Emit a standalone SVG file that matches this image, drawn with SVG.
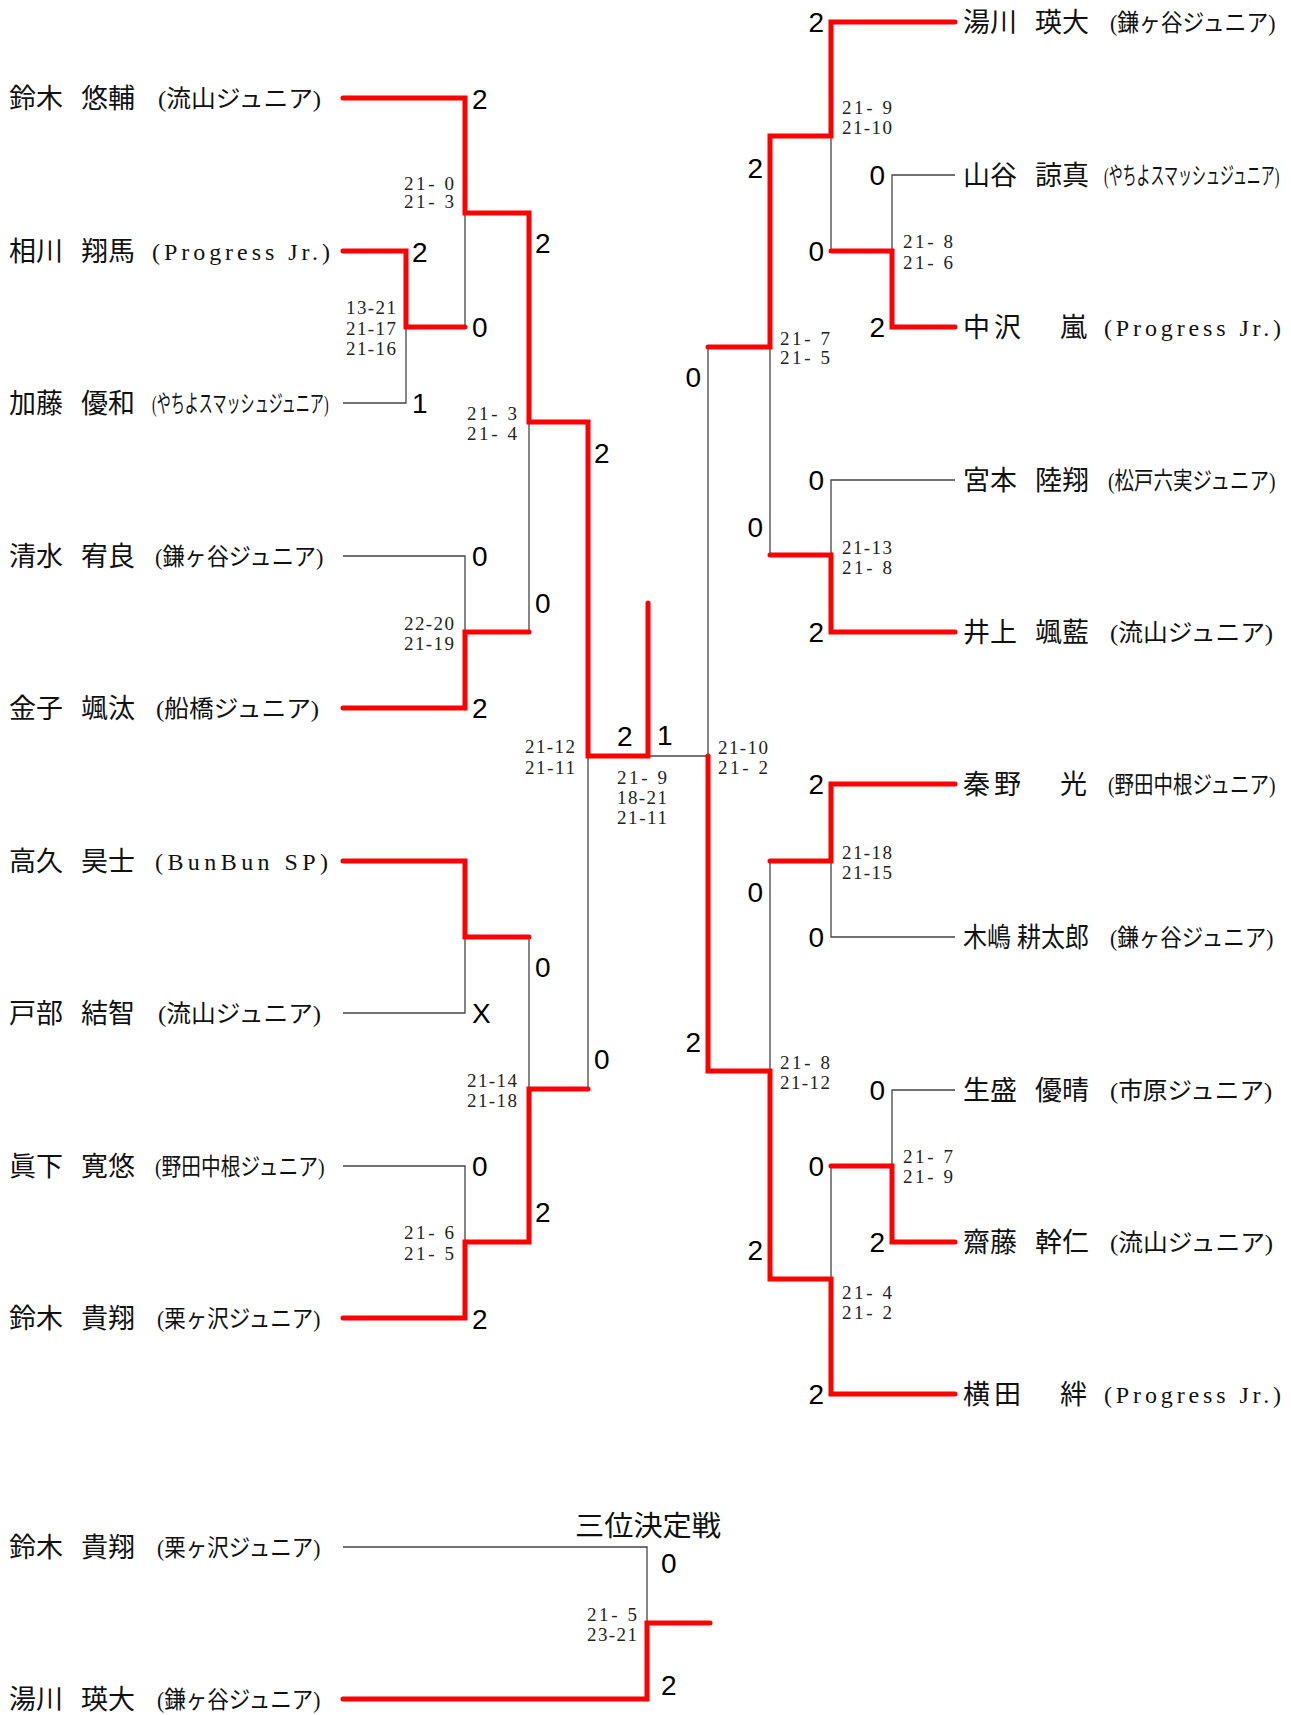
<svg xmlns="http://www.w3.org/2000/svg" width="1291" height="1715" viewBox="0 0 1291 1715">
<style>
.bg{fill:#fff}
.nm{font-family:"Liberation Serif","Noto Sans CJK JP",serif;font-size:27px;fill:#111}
.cl{font-family:"Liberation Serif","Noto Sans CJK JP",serif;font-size:24px;fill:#111}
.sc{font-family:"Liberation Sans",Arial,sans-serif;font-size:28px;fill:#000}
.gm{font-family:"Liberation Serif","Times New Roman",serif;font-size:19px;fill:#222}
.ttl{font-family:"Liberation Serif","Noto Sans CJK JP",serif;font-size:28px;fill:#111}
.w{fill:none;stroke:#ff0000;stroke-width:5;stroke-linecap:round;stroke-linejoin:miter}
.l{fill:none;stroke:#444;stroke-width:1.3}
</style>
<rect class="bg" x="0" y="0" width="1291" height="1715"/>

<g id="connectors">
  <polyline class="l" points="465,213 465,327"/>
  <polyline class="l" points="343,403 406,403 406,327"/>
  <polyline class="l" points="529,422 529,632"/>
  <polyline class="l" points="343,556 465,556 465,632"/>
  <polyline class="l" points="343,1013 465,1013 465,937"/>
  <polyline class="l" points="529,937 529,1089"/>
  <polyline class="l" points="343,1166 465,1166 465,1242"/>
  <polyline class="l" points="588,756 588,1089"/>
  <polyline class="l" points="648,756 708,756"/>
  <polyline class="l" points="831,136 831,251"/>
  <polyline class="l" points="955,175 892,175 892,251"/>
  <polyline class="l" points="955,480 831,480 831,555"/>
  <polyline class="l" points="770,347 770,555"/>
  <polyline class="l" points="708,347 708,756"/>
  <polyline class="l" points="955,937 831,937 831,861"/>
  <polyline class="l" points="770,861 770,1071"/>
  <polyline class="l" points="955,1090 892,1090 892,1166"/>
  <polyline class="l" points="831,1166 831,1279"/>
  <polyline class="l" points="343,1547 647,1547 647,1623"/>
  <polyline class="w" points="343,98 465,98 465,213 529,213 529,422 588,422 588,756 648,756 648,603"/>
  <polyline class="w" points="343,251 406,251 406,327 465,327"/>
  <polyline class="w" points="343,708 465,708 465,632 529,632"/>
  <polyline class="w" points="343,861 465,861 465,937 529,937"/>
  <polyline class="w" points="343,1318 465,1318 465,1242 529,1242 529,1089 588,1089"/>
  <polyline class="w" points="955,22 831,22 831,136 770,136 770,347 708,347"/>
  <polyline class="w" points="955,327 892,327 892,251 831,251"/>
  <polyline class="w" points="955,632 831,632 831,555 770,555"/>
  <polyline class="w" points="955,784 831,784 831,861 770,861"/>
  <polyline class="w" points="955,1394 831,1394 831,1279 770,1279 770,1071 708,1071 708,756"/>
  <polyline class="w" points="955,1242 892,1242 892,1166 831,1166"/>
  <polyline class="w" points="343,1699 647,1699 647,1623 710,1623"/>
</g>

<g id="p-suzuki-yusuke"><text class="nm" y="108"><tspan x="9">鈴木</tspan><tspan x="81">悠輔</tspan></text><text class="cl" transform="translate(158,107) scale(1.031,1)">(流山ジュニア)</text></g>
<g id="p-aikawa"><text class="nm" y="261"><tspan x="9">相川</tspan><tspan x="81">翔馬</tspan></text><text class="cl" x="152" y="260" textLength="178" lengthAdjust="spacing">(Progress Jr.)</text></g>
<g id="p-kato"><text class="nm" y="413"><tspan x="9">加藤</tspan><tspan x="81">優和</tspan></text><text class="cl" transform="translate(152,412) scale(0.586,1)">(やちよスマッシュジュニア)</text></g>
<g id="p-shimizu"><text class="nm" y="566"><tspan x="9">清水</tspan><tspan x="81">宥良</tspan></text><text class="cl" transform="translate(155,565) scale(0.924,1)">(鎌ヶ谷ジュニア)</text></g>
<g id="p-kaneko"><text class="nm" y="718"><tspan x="9">金子</tspan><tspan x="81">颯汰</tspan></text><text class="cl" transform="translate(156,717) scale(1.031,1)">(船橋ジュニア)</text></g>
<g id="p-takaku"><text class="nm" y="871"><tspan x="9">高久</tspan><tspan x="81">昊士</tspan></text><text class="cl" x="155" y="870" textLength="173" lengthAdjust="spacing">(BunBun SP)</text></g>
<g id="p-tobe"><text class="nm" y="1023"><tspan x="9">戸部</tspan><tspan x="81">結智</tspan></text><text class="cl" transform="translate(158,1022) scale(1.031,1)">(流山ジュニア)</text></g>
<g id="p-mashita"><text class="nm" y="1176"><tspan x="9">眞下</tspan><tspan x="81">寛悠</tspan></text><text class="cl" transform="translate(155,1175) scale(0.822,1)">(野田中根ジュニア)</text></g>
<g id="p-suzuki-takato"><text class="nm" y="1328"><tspan x="9">鈴木</tspan><tspan x="81">貴翔</tspan></text><text class="cl" transform="translate(157,1327) scale(0.897,1)">(栗ヶ沢ジュニア)</text></g>

<g id="p-yukawa"><text class="nm" y="32"><tspan x="963">湯川</tspan><tspan x="1035">瑛大</tspan></text><text class="cl" transform="translate(1110,31) scale(0.908,1)">(鎌ヶ谷ジュニア)</text></g>
<g id="p-yamaya"><text class="nm" y="185"><tspan x="963">山谷</tspan><tspan x="1035">諒真</tspan></text><text class="cl" transform="translate(1104,184) scale(0.582,1)">(やちよスマッシュジュニア)</text></g>
<g id="p-nakazawa"><text class="nm" y="337" x="963 990 994 1021 1060">中 沢　嵐</text><text class="cl" x="1104" y="336" textLength="177" lengthAdjust="spacing">(Progress Jr.)</text></g>
<g id="p-miyamoto"><text class="nm" y="490"><tspan x="963">宮本</tspan><tspan x="1035">陸翔</tspan></text><text class="cl" transform="translate(1108,489) scale(0.8125,1)">(松戸六実ジュニア)</text></g>
<g id="p-inoue"><text class="nm" y="642"><tspan x="963">井上</tspan><tspan x="1035">颯藍</tspan></text><text class="cl" transform="translate(1110,641) scale(1.031,1)">(流山ジュニア)</text></g>
<g id="p-hatano"><text class="nm" y="794" x="963 990 994 1021 1060">秦 野　光</text><text class="cl" transform="translate(1108,793) scale(0.8125,1)">(野田中根ジュニア)</text></g>
<g id="p-kijima"><text class="nm" transform="translate(963,947) scale(0.889,1)">木嶋 耕太郎</text><text class="cl" transform="translate(1110,946) scale(0.897,1)">(鎌ヶ谷ジュニア)</text></g>
<g id="p-ikumori"><text class="nm" y="1100"><tspan x="963">生盛</tspan><tspan x="1035">優晴</tspan></text><text class="cl" transform="translate(1110,1099) scale(1.025,1)">(市原ジュニア)</text></g>
<g id="p-saito"><text class="nm" y="1252"><tspan x="963">齋藤</tspan><tspan x="1035">幹仁</tspan></text><text class="cl" transform="translate(1110,1251) scale(1.031,1)">(流山ジュニア)</text></g>
<g id="p-yokota"><text class="nm" y="1404" x="963 990 994 1021 1060">横 田　絆</text><text class="cl" x="1104" y="1403" textLength="177" lengthAdjust="spacing">(Progress Jr.)</text></g>

<g id="third-title"><text class="ttl" x="575" y="1536" textLength="146" lengthAdjust="spacingAndGlyphs">三位決定戦</text></g>
<g id="p3-suzuki"><text class="nm" y="1557"><tspan x="9">鈴木</tspan><tspan x="81">貴翔</tspan></text><text class="cl" transform="translate(157,1556) scale(0.897,1)">(栗ヶ沢ジュニア)</text></g>
<g id="p3-yukawa"><text class="nm" y="1709"><tspan x="9">湯川</tspan><tspan x="81">瑛大</tspan></text><text class="cl" transform="translate(157,1708) scale(0.897,1)">(鎌ヶ谷ジュニア)</text></g>

<g id="scores-left" class="sc">
  <text x="472" y="109">2</text>
  <text x="412" y="262">2</text>
  <text x="472" y="337">0</text>
  <text x="412" y="413">1</text>
  <text x="535" y="253">2</text>
  <text x="535" y="613">0</text>
  <text x="472" y="566">0</text>
  <text x="472" y="718">2</text>
  <text x="594" y="463">2</text>
  <text x="617" y="746">2</text>
  <text x="657" y="745">1</text>
  <text x="535" y="977">0</text>
  <text x="472" y="1023">X</text>
  <text x="594" y="1069">0</text>
  <text x="472" y="1176">0</text>
  <text x="535" y="1222">2</text>
  <text x="472" y="1329">2</text>
  <text x="661" y="1573">0</text>
  <text x="661" y="1695">2</text>
</g>
<g id="scores-right" class="sc" text-anchor="end">
  <text x="824" y="32">2</text>
  <text x="763" y="178">2</text>
  <text x="885" y="185">0</text>
  <text x="824" y="261">0</text>
  <text x="885" y="337">2</text>
  <text x="701" y="387">0</text>
  <text x="824" y="490">0</text>
  <text x="763" y="537">0</text>
  <text x="824" y="642">2</text>
  <text x="824" y="794">2</text>
  <text x="763" y="902">0</text>
  <text x="824" y="947">0</text>
  <text x="701" y="1052">2</text>
  <text x="885" y="1100">0</text>
  <text x="824" y="1176">0</text>
  <text x="885" y="1252">2</text>
  <text x="763" y="1260">2</text>
  <text x="824" y="1404">2</text>
</g>

<g id="games" class="gm">
  <text x="404" y="190" textLength="50" lengthAdjust="spacing">21- 0</text>
  <text x="404" y="208" textLength="50" lengthAdjust="spacing">21- 3</text>
  <text x="346" y="313.5" textLength="50" lengthAdjust="spacing">13-21</text>
  <text x="346" y="334.5" textLength="50" lengthAdjust="spacing">21-17</text>
  <text x="346" y="354.5" textLength="50" lengthAdjust="spacing">21-16</text>
  <text x="467" y="419.5" textLength="50" lengthAdjust="spacing">21- 3</text>
  <text x="467" y="439.5" textLength="50" lengthAdjust="spacing">21- 4</text>
  <text x="404" y="629.5" textLength="50" lengthAdjust="spacing">22-20</text>
  <text x="404" y="649.5" textLength="50" lengthAdjust="spacing">21-19</text>
  <text x="525" y="752.5" textLength="50" lengthAdjust="spacing">21-12</text>
  <text x="525" y="773.5" textLength="50" lengthAdjust="spacing">21-11</text>
  <text x="617" y="783.5" textLength="50" lengthAdjust="spacing">21- 9</text>
  <text x="617" y="803.5" textLength="50" lengthAdjust="spacing">18-21</text>
  <text x="617" y="823.5" textLength="50" lengthAdjust="spacing">21-11</text>
  <text x="467" y="1086.5" textLength="50" lengthAdjust="spacing">21-14</text>
  <text x="467" y="1106.5" textLength="50" lengthAdjust="spacing">21-18</text>
  <text x="404" y="1238.5" textLength="50" lengthAdjust="spacing">21- 6</text>
  <text x="404" y="1259.5" textLength="50" lengthAdjust="spacing">21- 5</text>
  <text x="587" y="1620.5" textLength="50" lengthAdjust="spacing">21- 5</text>
  <text x="587" y="1640.5" textLength="50" lengthAdjust="spacing">23-21</text>
  <text x="842" y="113.5" textLength="50" lengthAdjust="spacing">21- 9</text>
  <text x="842" y="133.5" textLength="50" lengthAdjust="spacing">21-10</text>
  <text x="903" y="247.5" textLength="50" lengthAdjust="spacing">21- 8</text>
  <text x="903" y="268.5" textLength="50" lengthAdjust="spacing">21- 6</text>
  <text x="780" y="344.5" textLength="50" lengthAdjust="spacing">21- 7</text>
  <text x="780" y="363.5" textLength="50" lengthAdjust="spacing">21- 5</text>
  <text x="842" y="553.5" textLength="50" lengthAdjust="spacing">21-13</text>
  <text x="842" y="573.5" textLength="50" lengthAdjust="spacing">21- 8</text>
  <text x="718" y="753.5" textLength="50" lengthAdjust="spacing">21-10</text>
  <text x="718" y="773.5" textLength="50" lengthAdjust="spacing">21- 2</text>
  <text x="842" y="858.5" textLength="50" lengthAdjust="spacing">21-18</text>
  <text x="842" y="878.5" textLength="50" lengthAdjust="spacing">21-15</text>
  <text x="780" y="1068.5" textLength="50" lengthAdjust="spacing">21- 8</text>
  <text x="780" y="1088.5" textLength="50" lengthAdjust="spacing">21-12</text>
  <text x="903" y="1162.5" textLength="50" lengthAdjust="spacing">21- 7</text>
  <text x="903" y="1182.5" textLength="50" lengthAdjust="spacing">21- 9</text>
  <text x="842" y="1298.5" textLength="50" lengthAdjust="spacing">21- 4</text>
  <text x="842" y="1318.5" textLength="50" lengthAdjust="spacing">21- 2</text>
</g>
</svg>
